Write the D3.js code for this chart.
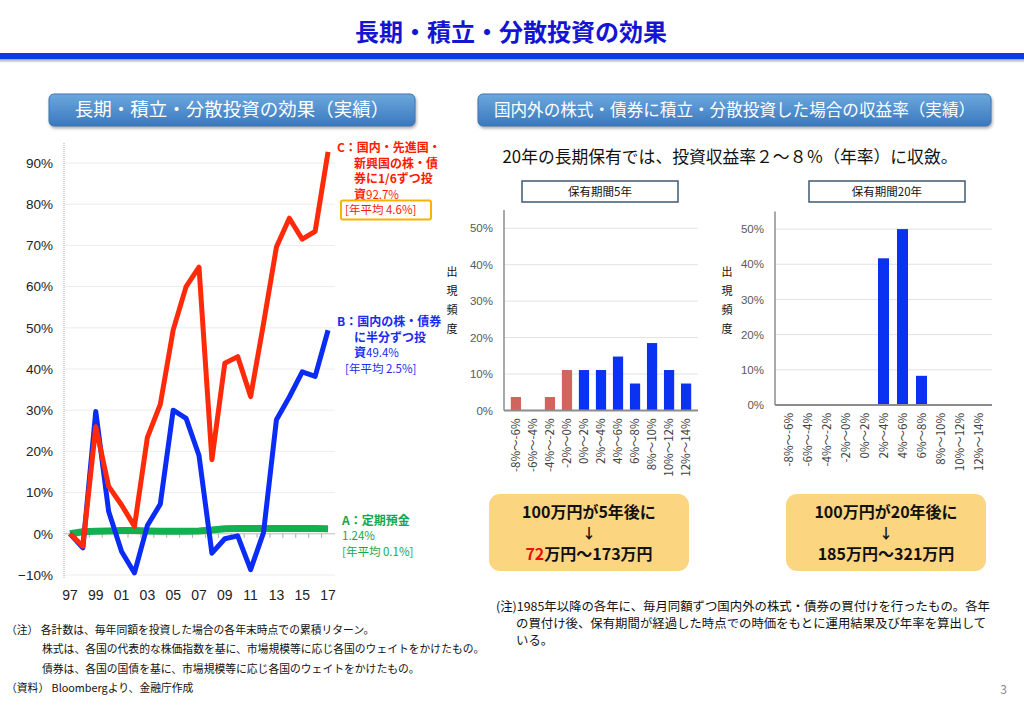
<!DOCTYPE html>
<html>
<head>
<meta charset="utf-8">
<script src="https://cdn.jsdelivr.net/npm/d3@7"></script>
<style>
  body { margin: 0; background: #fff; }
  svg { display: block; font-family: "Noto Sans CJK JP", "Noto Sans", sans-serif; }
</style>
</head>
<body>
<div id="chart"></div>
<script>
// left chart: cumulative returns by year-end
var years = [1997, 1998, 1999, 2000, 2001, 2002, 2003, 2004, 2005, 2006, 2007,
             2008, 2009, 2010, 2011, 2012, 2013, 2014, 2015, 2016, 2017];
var labelYears = [1997, 1999, 2001, 2003, 2005, 2007, 2009, 2011, 2013, 2015, 2017];
var seriesC = [0, -3, 26, 11.5, 7, 1.8, 23.4, 31.4, 49.5, 60, 64.7,
               18, 41.4, 43, 33.3, 51, 69.6, 76.6, 71.5, 73.4, 92.7];
var seriesB = [0, -3.4, 29.7, 5.4, -4.3, -9.5, 2, 7.2, 30, 28, 19,
               -4.7, -1.2, -0.5, -8.7, 0.3, 27.7, 33.2, 39.3, 38.2, 49.4];
var seriesA = [0, 0.5, 0.6, 0.7, 0.8, 0.8, 0.7, 0.6, 0.6, 0.6, 0.7,
               0.9, 1.2, 1.3, 1.3, 1.3, 1.3, 1.3, 1.3, 1.3, 1.24];
var leftTicks = [-10, 0, 10, 20, 30, 40, 50, 60, 70, 80, 90];

// right charts: frequency of annualised returns
var bins = ["-8%～-6%", "-6%～-4%", "-4%～-2%", "-2%～0%", "0%～2%", "2%～4%",
            "4%～6%", "6%～8%", "8%～10%", "10%～12%", "12%～14%"];
var negBins = ["-8%～-6%", "-6%～-4%", "-4%～-2%", "-2%～0%"];
var freq5 = [3.7, 0, 3.7, 11.1, 11.1, 11.1, 14.8, 7.4, 18.5, 11.1, 7.4];
var freq20 = [0, 0, 0, 0, 0, 41.7, 50, 8.3, 0, 0, 0];
var freqTicks = [0, 10, 20, 30, 40, 50];

var W = 1024, H = 709;
var svg = d3.select("#chart").append("svg").attr("width", W).attr("height", H);
var defs = svg.append("defs");

var grad = defs.append("linearGradient").attr("id", "btn").attr("x1", 0).attr("y1", 0).attr("x2", 0).attr("y2", 1);
grad.append("stop").attr("offset", "0%").attr("stop-color", "#6ba8de");
grad.append("stop").attr("offset", "100%").attr("stop-color", "#3b78bd");

var sh = defs.append("linearGradient").attr("id", "rule").attr("x1", 0).attr("y1", 0).attr("x2", 0).attr("y2", 1);
sh.append("stop").attr("offset", "0%").attr("stop-color", "#888");
sh.append("stop").attr("offset", "100%").attr("stop-color", "#fff");

var blur = defs.append("filter").attr("id", "shadow").attr("x", "-5%").attr("y", "-20%").attr("width", "110%").attr("height", "160%");
blur.append("feDropShadow").attr("dx", 1).attr("dy", 2).attr("stdDeviation", 1.5).attr("flood-color", "#777").attr("flood-opacity", 0.6);

// title and rule
svg.append("text").attr("x", 511).attr("y", 41).attr("text-anchor", "middle")
  .attr("font-size", 24).attr("font-weight", "bold").attr("fill", "#1414d2")
  .text("長期・積立・分散投資の効果");
svg.append("rect").attr("x", 0).attr("y", 58).attr("width", W).attr("height", 5).attr("fill", "url(#rule)");
svg.append("rect").attr("x", 0).attr("y", 53).attr("width", W).attr("height", 6).attr("fill", "#0b3ce6");

// header buttons
function button(x, w, label, size) {
  svg.append("rect").attr("x", x).attr("y", 94).attr("width", w).attr("height", 32).attr("rx", 5)
    .attr("fill", "url(#btn)").attr("stroke", "#3f74b0").attr("filter", "url(#shadow)");
  svg.append("text").attr("x", x + w / 2).attr("y", 116).attr("text-anchor", "middle")
    .attr("font-size", size).attr("fill", "#fff").text(label);
}
button(49, 366, "長期・積立・分散投資の効果（実績）", 18.5);
button(478, 513, "国内外の株式・債券に積立・分散投資した場合の収益率（実績）", 16.6);

// ---------- left line chart ----------
var x = d3.scaleBand().domain(years).range([63.5, 334.5]);
var y = d3.scaleLinear().domain([-10, 90]).range([575, 163]);
var cx = function(d) { return x(d) + x.bandwidth() / 2; };

var left = svg.append("g");
left.selectAll(".grid").data(leftTicks.filter(function(d) { return d !== 0; })).enter()
  .append("line").attr("x1", 64).attr("x2", 335)
  .attr("y1", function(d) { return y(d); }).attr("y2", function(d) { return y(d); })
  .attr("stroke", "#ececec").attr("stroke-width", 1);
left.append("line").attr("x1", 64).attr("x2", 64).attr("y1", 143).attr("y2", 578)
  .attr("stroke", "#c8c8c8").attr("stroke-width", 1.5).attr("stroke-dasharray", "1,1");

var yAxis = d3.axisLeft(y).tickValues(leftTicks).tickSize(0).tickPadding(0)
  .tickFormat(function(d) { return (d < 0 ? "−" + (-d) : d) + "%"; });
left.append("g").attr("transform", "translate(53,0)").call(yAxis)
  .call(function(g) { g.select(".domain").remove(); })
  .selectAll("text").attr("font-size", 13.5).attr("fill", "#222").attr("font-family", "Arial, 'Liberation Sans', sans-serif");

// zero line with ticks between categories
left.append("line").attr("x1", 64).attr("x2", 335).attr("y1", y(0)).attr("y2", y(0))
  .attr("stroke", "#bbb").attr("stroke-width", 1);
left.selectAll(".tk").data(years.slice(1)).enter().append("line")
  .attr("x1", function(d) { return x(d); }).attr("x2", function(d) { return x(d); })
  .attr("y1", y(0)).attr("y2", y(0) + 4).attr("stroke", "#aaa");

var xAxis = d3.axisBottom(x).tickValues(labelYears).tickSize(0).tickPadding(0)
  .tickFormat(function(d) { return String(d).slice(2); });
left.append("g").attr("transform", "translate(0,590)").call(xAxis)
  .call(function(g) { g.select(".domain").remove(); })
  .selectAll("text").attr("font-size", 14).attr("fill", "#222").attr("font-family", "Arial, 'Liberation Sans', sans-serif");

function drawLine(vals, color, width) {
  var line = d3.line().x(function(d, i) { return cx(years[i]); }).y(function(d) { return y(d); });
  left.append("path").datum(vals).attr("d", line).attr("fill", "none")
    .attr("stroke", color).attr("stroke-width", width).attr("stroke-linejoin", "round");
}
drawLine(seriesA, "#12b050", 7);
drawLine(seriesB, "#0a2cf5", 5);
drawLine(seriesC, "#ff2a0a", 5);

// annotations
function lines(rows, color) {
  rows.forEach(function(r) {
    var t = svg.append("text").attr("x", r[0]).attr("y", r[1]).attr("fill", color);
    r[2].forEach(function(p) {
      t.append("tspan").attr("font-size", p[1]).attr("font-weight", p[2] ? "bold" : "normal").text(p[0]);
    });
  });
}
lines([
  [337, 152, [["C：国内・先進国・", 12, true]]],
  [354, 167.5, [["新興国の株・債", 12, true]]],
  [354, 183, [["券に1/6ずつ投", 12, true]]],
  [354, 198.5, [["資", 12, true], ["92.7%", 11.5, false]]],
  [345, 214, [["[年平均 4.6%]", 11.5, false]]]
], "#ff1a00");
svg.append("rect").attr("x", 341).attr("y", 200.5).attr("width", 90).attr("height", 19).attr("rx", 2)
  .attr("fill", "none").attr("stroke", "#f5b400").attr("stroke-width", 2);
lines([
  [337, 326, [["B：国内の株・債券", 12, true]]],
  [354, 341.5, [["に半分ずつ投", 12, true]]],
  [354, 357, [["資", 12, true], ["49.4%", 11.5, false]]],
  [345, 372.5, [["[年平均 2.5%]", 11.5, false]]]
], "#1a2cf0");
lines([
  [342, 525, [["A：定期預金", 12, true]]],
  [342, 540, [["1.24%", 11.5, false]]],
  [342, 556, [["[年平均 0.1%]", 11.5, false]]]
], "#12a84e");

// ---------- right histograms ----------
svg.append("text").attr("x", 730).attr("y", 163).attr("text-anchor", "middle")
  .attr("font-size", 16.8).attr("fill", "#111").text("20年の長期保有では、投資収益率２～８％（年率）に収斂。");

function hist(opt) {
  var g = svg.append("g");
  var bx = d3.scaleBand().domain(bins).range([opt.x0, opt.x1]).padding(opt.pad);
  var by = d3.scaleLinear().domain([0, 55]).range([opt.y0, opt.yTop]);
  g.selectAll(".gl").data(freqTicks.slice(1)).enter().append("line")
    .attr("x1", opt.x0).attr("x2", opt.x1)
    .attr("y1", function(d) { return by(d); }).attr("y2", function(d) { return by(d); })
    .attr("stroke", "#e2e2e2");
  g.append("g").attr("transform", "translate(" + (opt.x0 - 11) + ",0)")
    .call(d3.axisLeft(by).tickValues(freqTicks).tickSize(0).tickPadding(0).tickFormat(function(d) { return d + "%"; }))
    .call(function(a) { a.select(".domain").remove(); })
    .selectAll("text").attr("font-size", 11.5).attr("fill", "#595959").attr("font-family", "Arial, 'Liberation Sans', sans-serif");
  g.selectAll(".bar").data(opt.vals).enter().append("rect")
    .attr("x", function(d, i) { return bx(bins[i]); }).attr("width", bx.bandwidth())
    .attr("y", function(d) { return by(d); }).attr("height", function(d) { return by(0) - by(d); })
    .attr("fill", function(d, i) { return negBins.indexOf(bins[i]) >= 0 ? "#d2645e" : "#0a32f0"; });
  g.append("line").attr("x1", opt.x0).attr("x2", opt.x0).attr("y1", opt.yTop).attr("y2", opt.y0)
    .attr("stroke", "#8c8c8c").attr("stroke-width", 1.5);
  g.append("line").attr("x1", opt.x0).attr("x2", opt.x1).attr("y1", opt.y0).attr("y2", opt.y0)
    .attr("stroke", "#8c8c8c").attr("stroke-width", 2);
  g.selectAll(".xl").data(bins).enter().append("text")
    .attr("transform", function(d) { return "translate(" + (bx(d) + bx.bandwidth() / 2) + "," + (opt.y0 + 8) + ") rotate(-90)"; })
    .attr("text-anchor", "end").attr("dy", "0.35em")
    .attr("font-size", 11.5).attr("fill", "#404040").text(function(d) { return d; });
  // caption box
  g.append("rect").attr("x", opt.bx).attr("y", 181).attr("width", 156).attr("height", 21)
    .attr("fill", "#fff").attr("stroke", "#3f5873").attr("stroke-width", 1.5);
  g.append("text").attr("x", opt.bx + 78).attr("y", 196).attr("text-anchor", "middle")
    .attr("font-size", 11.5).attr("fill", "#111").text(opt.caption);
  // vertical axis title
  g.selectAll(".vt").data(["出", "現", "頻", "度"]).enter().append("text")
    .attr("x", opt.vx).attr("y", function(d, i) { return opt.vy + i * 19; })
    .attr("text-anchor", "middle").attr("font-size", 11).attr("fill", "#111").text(function(d) { return d; });
}
hist({ vals: freq5, x0: 504, x1: 698, y0: 410.5, yTop: 210, pad: 0.4, bx: 522, caption: "保有期間5年", vx: 452, vy: 276 });
hist({ vals: freq20, x0: 775, x1: 992, y0: 405, yTop: 211.5, pad: 0.42, bx: 809, caption: "保有期間20年", vx: 727, vy: 276 });

// result boxes
function resultBox(x0, top, low, high) {
  svg.append("rect").attr("x", x0).attr("y", 494).attr("width", 200).attr("height", 77).attr("rx", 11)
    .attr("fill", "#fcd580");
  var cxm = x0 + 100;
  svg.append("text").attr("x", cxm).attr("y", 518).attr("text-anchor", "middle")
    .attr("font-size", 16).attr("font-weight", "bold").attr("fill", "#111").text(top);
  svg.append("text").attr("x", cxm).attr("y", 538).attr("text-anchor", "middle")
    .attr("font-size", 14).attr("font-weight", "bold").attr("fill", "#111").text("↓");
  var t = svg.append("text").attr("x", cxm).attr("y", 560).attr("text-anchor", "middle")
    .attr("font-size", 16).attr("font-weight", "bold").attr("fill", "#111");
  t.append("tspan").attr("fill", low[1]).text(low[0]);
  t.append("tspan").text(high);
}
resultBox(489, "100万円が5年後に", ["72", "#e8120c"], "万円～173万円");
resultBox(786, "100万円が20年後に", ["185", "#111"], "万円～321万円");

// notes
var noteR = [
  [496, 611, "(注)1985年以降の各年に、毎月同額ずつ国内外の株式・債券の買付けを行ったもの。各年"],
  [516, 628, "の買付け後、保有期間が経過した時点での時価をもとに運用結果及び年率を算出して"],
  [516, 645, "いる。"]
];
svg.selectAll(".nr").data(noteR).enter().append("text")
  .attr("x", function(d) { return d[0]; }).attr("y", function(d) { return d[1]; })
  .attr("font-size", 12.4).attr("fill", "#111").text(function(d) { return d[2]; });

var noteL = [
  [6, 634, "（注）  各計数は、毎年同額を投資した場合の各年末時点での累積リターン。"],
  [42, 653, "株式は、各国の代表的な株価指数を基に、市場規模等に応じ各国のウェイトをかけたもの。"],
  [42, 673, "債券は、各国の国債を基に、市場規模等に応じ各国のウェイトをかけたもの。"],
  [6, 692, "（資料）  Bloombergより、金融庁作成"]
];
svg.selectAll(".nl").data(noteL).enter().append("text")
  .attr("x", function(d) { return d[0]; }).attr("y", function(d) { return d[1]; })
  .attr("font-size", 10.8).attr("fill", "#111").text(function(d) { return d[2]; });

svg.append("text").attr("x", 1007).attr("y", 694).attr("text-anchor", "end")
  .attr("font-size", 12).attr("fill", "#888").text("3");
</script>
</body>
</html>
